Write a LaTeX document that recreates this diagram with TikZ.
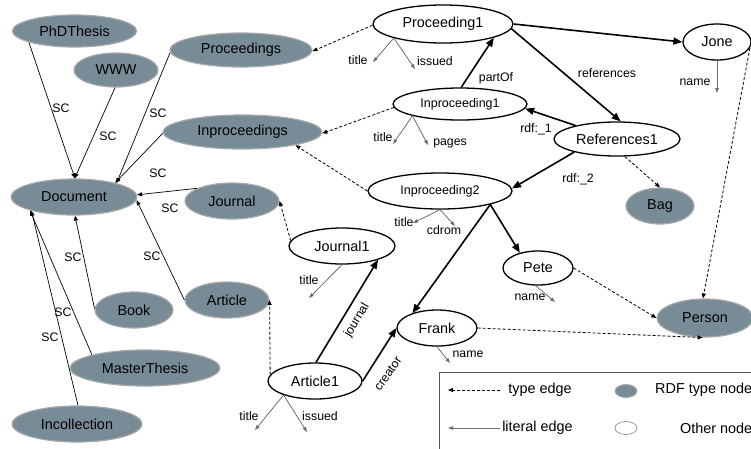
\documentclass[tikz,border=0pt]{standalone}
\usepackage{fontspec}
\setmainfont{Liberation Sans}
\usetikzlibrary{shapes.geometric,arrows.meta}
\definecolor{typefill}{HTML}{788C97}
\definecolor{typeborder}{HTML}{A8A8A8}
\definecolor{litgray}{HTML}{6E6E6E}
\definecolor{legendgray}{HTML}{555555}
\begin{document}
\begin{tikzpicture}[x=1pt,y=-1pt,
  typenode/.style={ellipse,draw=typeborder,fill=typefill,line width=1.2pt,inner sep=0pt,font=\fontsize{14.4}{16}\selectfont},
  othernode/.style={ellipse,draw=black,fill=white,line width=1.3pt,inner sep=0pt,font=\fontsize{14.4}{16}\selectfont},
  smallnode/.style={othernode,font=\fontsize{12.5}{14}\selectfont},
  lbl/.style={inner sep=0pt,font=\fontsize{12.3}{14}\selectfont},
  legtext/.style={inner sep=0pt,font=\fontsize{14.4}{16}\selectfont},
  sc/.style={draw=black,line width=0.7pt,-{Triangle[length=5pt,width=4pt]}},
  typeedge/.style={draw=black,line width=0.8pt,dash pattern=on 3pt off 2pt,-{Triangle[length=5pt,width=4pt]}},
  prop/.style={draw=black,line width=1.6pt,-{Triangle[length=9pt,width=7pt]}},
  lit/.style={draw=litgray,line width=0.8pt,-{Triangle[length=5pt,width=3.5pt]}}
]
\useasboundingbox (0,0) rectangle (751,448);

% RDF type nodes
\node[typenode,minimum width=124,minimum height=32] (PhDThesis) at (74.5,31) {PhDThesis};
\node[typenode,minimum width=84,minimum height=34] (WWW) at (116,70) {WWW};
\node[typenode,minimum width=142,minimum height=34] (Proceedings) at (241,50) {Proceedings};
\node[typenode,minimum width=159,minimum height=34] (Inproceedings) at (242.5,132) {Inproceedings};
\node[typenode,minimum width=126,minimum height=36] (Document) at (74,197) {Document};
\node[typenode,minimum width=94,minimum height=36] (Journal) at (232,201) {Journal};
\node[typenode,minimum width=78,minimum height=36] (Book) at (134,310) {Book};
\node[typenode,minimum width=84,minimum height=36] (Article) at (227,300) {Article};
\node[typenode,minimum width=150,minimum height=36] (MasterThesis) at (145,368) {MasterThesis};
\node[typenode,minimum width=130,minimum height=36] (Incollection) at (77,424) {Incollection};
\node[typenode,minimum width=68,minimum height=36] (Bag) at (660,206) {Bag};
\node[typenode,minimum width=96,minimum height=38] (Person) at (705,318) {Person};

% other nodes
\node[othernode,minimum width=140,minimum height=38] (Proceeding1) at (443,24) {Proceeding1};
\node[othernode,minimum width=68,minimum height=36] (Jone) at (717,42) {Jone};
\node[smallnode,minimum width=134,minimum height=32] (Inproceeding1) at (460,104) {Inproceeding1};
\node[othernode,minimum width=126,minimum height=34] (References1) at (617,139) {References1};
\node[smallnode,minimum width=144,minimum height=36] (Inproceeding2) at (440,191) {Inproceeding2};
\node[othernode,minimum width=106,minimum height=36] (Journal1) at (342,246) {Journal1};
\node[othernode,minimum width=70,minimum height=34] (Pete) at (538,268) {Pete};
\node[othernode,minimum width=80,minimum height=36] (Frank) at (437,328) {Frank};
\node[othernode,minimum width=94,minimum height=36] (Article1) at (315,381) {Article1};

% subclass edges
\draw[sc] (PhDThesis.194) -- (Document.87);
\draw[sc] (WWW.267) -- (Document.88);
\draw[sc] (Proceedings.182) -- (Document.18);
\draw[sc] (Inproceedings.181) -- (Document.19);
\draw[sc] (Journal.160) -- (Document.2);
\draw[sc] (Article.180) -- (Document.-3);
\draw[sc] (Book.178) -- (Document.273);
\draw[sc] (MasterThesis.166) -- (Document.197);
\draw[sc] (Incollection.87) -- (Document.198);
\node[lbl] (sc1) at (61,108) {SC};
\node[lbl] (sc2) at (108,136) {SC};
\node[lbl] (sc3) at (158,113) {SC};
\node[lbl] (sc4) at (158,173) {SC};
\node[lbl] (sc5) at (170,208) {SC};
\node[lbl] (sc6) at (152,256) {SC};
\node[lbl] (sc7) at (73,257) {SC};
\node[lbl] (sc8) at (63,312) {SC};
\node[lbl] (sc9) at (50,337) {SC};

% type edges
\draw[typeedge] (Proceeding1.181) -- (Proceedings.359);
\draw[typeedge] (Inproceeding1.183) -- (Inproceedings.359);
\draw[typeedge] (Inproceeding2.180) -- (Inproceedings.-14);
\draw[typeedge] (Journal1.174) -- (Journal.east);
\draw[typeedge] (Article1.172) -- (Article.east);
\draw[typeedge] (References1.-66) -- (Bag.north);
\draw[typeedge] (Jone.-10) -- (Person.96);
\draw[typeedge] (Pete.east) -- (Person.west);
\draw[typeedge] (Frank.east) -- (Person.263);

% property edges
\draw[prop] (Proceeding1.east) -- (Jone.west);
\draw[prop] (Proceeding1.-4) -- (References1.78);
\draw[prop] (Inproceeding1.86) -- (Proceeding1.-15);
\draw[prop] (References1.162) -- (Inproceeding1.-4);
\draw[prop] (References1.197) -- (Inproceeding2.2);
\draw[prop] (Inproceeding2.-15) -- (Pete.140);
\draw[prop] (Inproceeding2.-15) -- (Frank.149);
\draw[prop] (Article1.87) -- (Journal1.-21);
\draw[prop] (Article1.east) -- (Frank.west);
\node[lbl] (lref) at (607,73) {references};
\node[lbl] (lpart) at (496,78) {partOf};
\node[lbl] (lrdf1) at (536,129) {rdf:\_1};
\node[lbl] (lrdf2) at (578,179) {rdf:\_2};
\node[lbl,rotate=59] (ljour) at (357,320) {journal};
\node[lbl,rotate=55] (lcre) at (388,374) {creator};

% literal edges
\coordinate (p1t) at (373,62);
\coordinate (p1i) at (415,69);
\draw[lit] (Proceeding1.196) -- (p1t);
\draw[lit] (Proceeding1.196) -- (p1i);
\node[lbl] (lp1t) at (358,60) {title};
\node[lbl] (lp1i) at (435,61) {issued};

\coordinate (i1t) at (393,144);
\coordinate (i1p) at (428,145);
\draw[lit] (Inproceeding1.194) -- (i1t);
\draw[lit] (Inproceeding1.194) -- (i1p);
\node[lbl] (li1t) at (383,137) {title};
\node[lbl] (li1p) at (450,143) {pages};

\coordinate (jn) at (717,93);
\draw[lit] (Jone.south) -- (jn);
\node[lbl] (ljn) at (695,82) {name};

\coordinate (i2t) at (413,223);
\coordinate (i2c) at (455,226);
\draw[lit] (Inproceeding2.south) -- (i2t);
\draw[lit] (Inproceeding2.south) -- (i2c);
\node[lbl] (li2t) at (404,222) {title};
\node[lbl] (li2c) at (444,230) {cdrom};

\coordinate (j1t) at (309,298);
\draw[lit] (Journal1.south) -- (j1t);
\node[lbl] (lj1t) at (309,280) {title};

\coordinate (pn) at (555,302);
\draw[lit] (Pete.262) -- (pn);
\node[lbl] (lpn) at (530,297) {name};

\coordinate (fn) at (450,363);
\draw[lit] (Frank.south) -- (fn);
\node[lbl] (lfn) at (468,354) {name};

\coordinate (a1t) at (255,430);
\coordinate (a1i) at (307,432);
\draw[lit] (Article1.204) -- (a1t);
\draw[lit] (Article1.204) -- (a1i);
\node[lbl] (la1t) at (249,416) {title};
\node[lbl] (la1i) at (320,416) {issued};

% legend
\draw[draw=legendgray,line width=1pt] (439,452) -- (439,372) -- (756,372);
\coordinate (lgA1) at (500,390);
\coordinate (lgA2) at (448,390);
\draw[typeedge] (lgA1) -- (lgA2);
\node[legtext] (lgT1) at (540,390) {type edge};
\coordinate (lgB1) at (500,428);
\coordinate (lgB2) at (448,428);
\draw[lit] (lgB1) -- (lgB2);
\node[legtext] (lgT2) at (537.5,428) {literal edge};
\node[typenode,line width=0.8pt,minimum width=22,minimum height=13] (lgN1) at (626,391) {};
\node[legtext,anchor=west] (lgT3) at (655,390) {RDF type node};
\node[othernode,draw=gray,line width=0.6pt,minimum width=22,minimum height=13] (lgN2) at (626,428) {};
\node[legtext,anchor=west] (lgT4) at (680,428) {Other node};
\end{tikzpicture}
\end{document}
